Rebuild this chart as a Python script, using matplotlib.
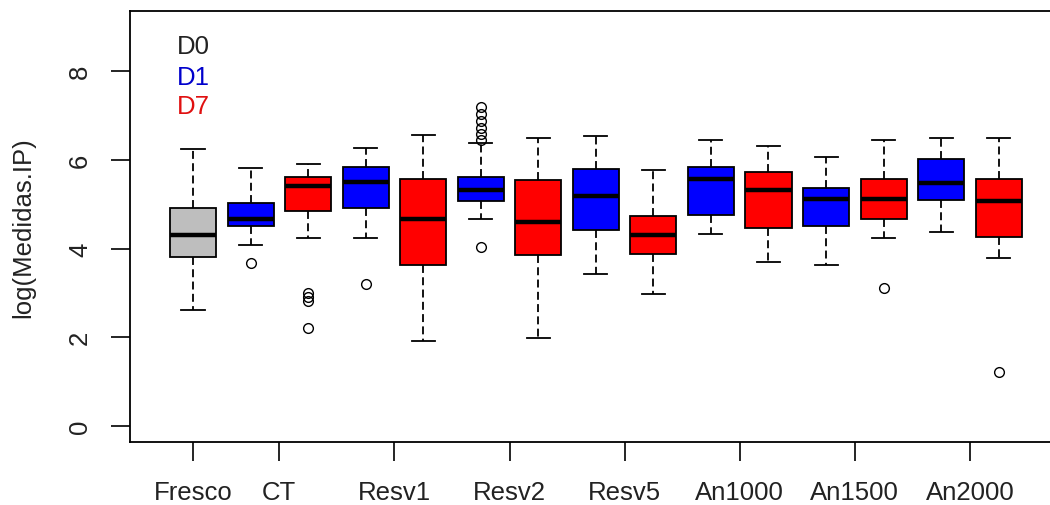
import numpy as np
import matplotlib
matplotlib.use("Agg")
import matplotlib.pyplot as plt

plt.rcParams['font.family'] = ['Liberation Sans', 'DejaVu Sans']

# one box per group, in drawing order
grupos = ['Fresco', 'CT D1', 'CT D7', 'Resv1 D1', 'Resv1 D7', 'Resv2 D1', 'Resv2 D7',
          'Resv5 D1', 'Resv5 D7', 'An1000 D1', 'An1000 D7', 'An1500 D1', 'An1500 D7',
          'An2000 D1', 'An2000 D7']
dia = ['D0', 'D1', 'D7', 'D1', 'D7', 'D1', 'D7', 'D1', 'D7', 'D1', 'D7', 'D1', 'D7', 'D1', 'D7']

# five-number summaries
whislo = [2.61, 4.08, 4.23, 4.23, 1.91, 4.66, 1.98, 3.42, 2.97, 4.34, 3.71, 3.63, 4.23, 4.37, 3.78]
q1 =     [3.82, 4.51, 4.85, 4.92, 3.63, 5.07, 3.85, 4.41, 3.89, 4.77, 4.47, 4.51, 4.66, 5.10, 4.26]
med =    [4.30, 4.66, 5.41, 5.51, 4.67, 5.32, 4.60, 5.19, 4.30, 5.58, 5.32, 5.11, 5.11, 5.47, 5.07]
q3 =     [4.92, 5.04, 5.62, 5.84, 5.58, 5.62, 5.54, 5.80, 4.74, 5.84, 5.73, 5.36, 5.58, 6.02, 5.58]
whishi = [6.24, 5.83, 5.92, 6.28, 6.56, 6.39, 6.50, 6.54, 5.77, 6.46, 6.31, 6.06, 6.46, 6.50, 6.50]
outliers = [[], [3.67], [3.01, 2.91, 2.82, 2.20], [3.20], [],
            [7.20, 7.03, 6.88, 6.73, 6.58, 6.46, 4.04], [], [], [], [], [], [], [3.12], [], [1.21]]

tick_pos = [1, 2.5, 4.5, 6.5, 8.5, 10.5, 12.5, 14.5]
tick_lab = ['Fresco', 'CT', 'Resv1', 'Resv2', 'Resv5', 'An1000', 'An1500', 'An2000']

cores = {'D0': '#bebebe', 'D1': '#0000ff', 'D7': '#ff0000'}

stats = []
for i in range(len(grupos)):
    stats.append(dict(label=grupos[i], whislo=whislo[i], q1=q1[i], med=med[i],
                      q3=q3[i], whishi=whishi[i], fliers=outliers[i]))

fig = plt.figure(figsize=(10.5, 5.06), dpi=100)
ax = fig.add_axes([129.7 / 1050, 1 - 443 / 506, (1062 - 129.7) / 1050, (443 - 12) / 506])

pos = np.arange(1, len(grupos) + 1)
bp = ax.bxp(stats, positions=pos, widths=0.8, capwidths=0.4, patch_artist=True,
            boxprops=dict(edgecolor='black', linewidth=1.3),
            medianprops=dict(color='black', linewidth=3.2, solid_capstyle='butt'),
            whiskerprops=dict(color='black', linewidth=1.3, linestyle=(0, (4.4, 2.4))),
            capprops=dict(color='black', linewidth=1.3),
            flierprops=dict(marker='o', markerfacecolor='none', markeredgecolor='black',
                            markersize=7, markeredgewidth=1.0))
for patch, d in zip(bp['boxes'], dia):
    patch.set_facecolor(cores[d])

ax.set_xlim(-0.1, 16.1)
ax.set_ylim(-0.36, 9.36)
ax.set_xticks(tick_pos)
ax.set_xticklabels(tick_lab)
ax.set_yticks([0, 2, 4, 6, 8])
ax.set_yticklabels(['0', '2', '4', '6', '8'], rotation=90, va='center')
ax.tick_params(axis='both', length=14, width=1.2, labelsize=18.5, colors='black',
               labelcolor='#222222')
ax.tick_params(axis='x', pad=13)
ax.tick_params(axis='y', pad=13)
for s in ax.spines.values():
    s.set_linewidth(1.3)

ax.set_ylabel('log(Medidas.IP)', fontsize=18.5, color='#222222', labelpad=24)

ax.text(0.72, 8.56, 'D0', color='#222222', fontsize=18.5, va='center', ha='left')
ax.text(0.72, 7.88, 'D1', color='#0000cc', fontsize=18.5, va='center', ha='left')
ax.text(0.72, 7.21, 'D7', color='#e01010', fontsize=18.5, va='center', ha='left')

fig.savefig('out.png', dpi=100)
